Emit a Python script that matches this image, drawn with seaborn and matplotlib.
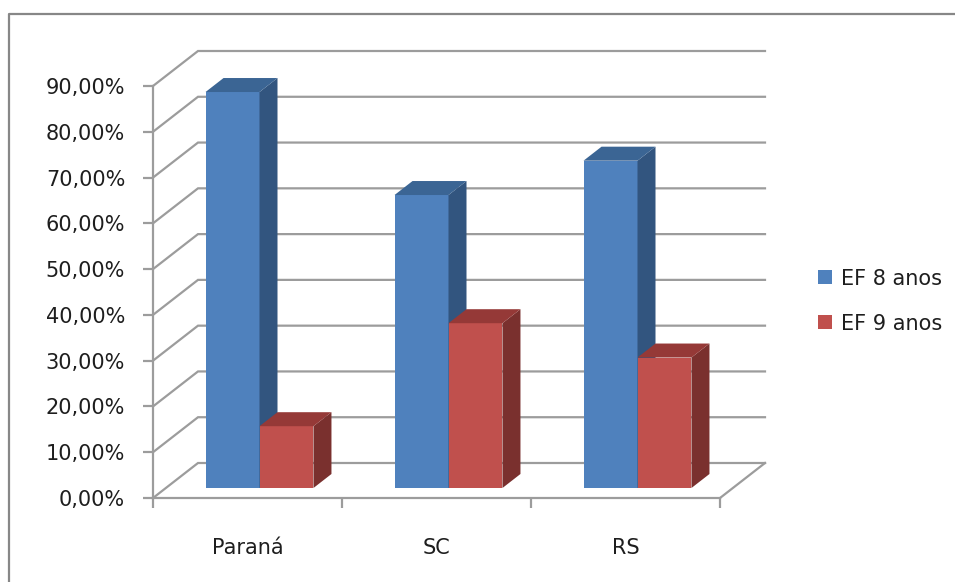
import numpy as np
import pandas as pd
import seaborn as sns
import matplotlib.pyplot as plt
from matplotlib.patches import Polygon, Patch
from matplotlib.lines import Line2D
from matplotlib.transforms import ScaledTranslation

# ---- data ----
estados = ["Paraná", "SC", "RS"]
series = ["EF 8 anos", "EF 9 anos"]
ef8 = [0.865, 0.64, 0.715]
ef9 = [0.135, 0.36, 0.285]
yticks = [0.0, 0.1, 0.2, 0.3, 0.4, 0.5, 0.6, 0.7, 0.8, 0.9]

df = pd.DataFrame({
    "estado": estados * 2,
    "serie": [series[0]] * 3 + [series[1]] * 3,
    "valor": ef8 + ef9,
})

# ---- styling ----
front = {"EF 8 anos": "#4F81BD", "EF 9 anos": "#C0504D"}
side = {"EF 8 anos": "#32557F", "EF 9 anos": "#7A302E"}
top = {"EF 8 anos": "#3B6594", "EF 9 anos": "#953937"}
grid_c = "#9C9C9C"
text_c = "#1E1E1E"
FS = 15

W, H, DPI = 955, 582, 100
fig = plt.figure(figsize=(W / DPI, H / DPI), dpi=DPI)
fig.patch.set_facecolor("white")

ax_px = (153, 86, 567, 412)  # left, top, width, height in pixels
ax = fig.add_axes([ax_px[0] / W, (H - ax_px[1] - ax_px[3]) / H, ax_px[2] / W, ax_px[3] / H])
ax.set_xlim(-0.5, 2.5)
ax.set_ylim(0, 0.9)
ax.set_facecolor("none")

# pixel -> data conversion for the depth offsets
px_x = 3.0 / ax_px[2]
px_y = 0.9 / ax_px[3]
wall_dx, wall_dy = 45 * px_x, 35 * px_y     # full depth of the floor/walls
bar_dx, bar_dy = 18 * px_x, 14 * px_y       # depth of each bar

sns.barplot(data=df, x="estado", y="valor", hue="serie", order=estados,
            hue_order=series, palette=front, width=0.571, saturation=1,
            ax=ax, legend=False, linewidth=0, zorder=3)

# bars sit part-way into the depth of the floor
shift = ax.transData + ScaledTranslation(12 / DPI, 10 / DPI, fig.dpi_scale_trans)

# back wall, left wall and floor
for t in yticks:
    ax.plot([-0.5, -0.5 + wall_dx, 2.5 + wall_dx], [t, t + wall_dy, t + wall_dy],
            color=grid_c, lw=1.6, clip_on=False, zorder=1, solid_joinstyle="miter")
ax.plot([2.5, 2.5 + wall_dx], [0, wall_dy], color=grid_c, lw=1.6, clip_on=False, zorder=1)

# 3D faces for each bar, series drawn left to right
patches = list(ax.patches)
for i, p in enumerate(patches):
    s = series[i // 3]
    z = 3 + (i // 3) * 2
    p.set_transform(shift)
    p.set_clip_on(False)
    p.set_zorder(z)
    x0, w, h = p.get_x(), p.get_width(), p.get_height()
    x1 = x0 + w
    side_poly = Polygon([(x1, 0), (x1 + bar_dx, bar_dy), (x1 + bar_dx, h + bar_dy), (x1, h)],
                        closed=True, facecolor=side[s], edgecolor="none",
                        transform=shift, clip_on=False, zorder=z)
    top_poly = Polygon([(x0, h), (x0 + bar_dx, h + bar_dy), (x1 + bar_dx, h + bar_dy), (x1, h)],
                       closed=True, facecolor=top[s], edgecolor="none",
                       transform=shift, clip_on=False, zorder=z + 0.5)
    ax.add_patch(side_poly)
    ax.add_patch(top_poly)

# axes
for sp in ["top", "right"]:
    ax.spines[sp].set_visible(False)
for sp in ["left", "bottom"]:
    ax.spines[sp].set_color(grid_c)
    ax.spines[sp].set_linewidth(1.6)
    ax.spines[sp].set_zorder(2)

ax.set_yticks(yticks)
ax.set_yticklabels([f"{v * 100:.2f}%".replace(".", ",") for v in yticks])
ax.tick_params(axis="y", length=7, width=1.6, color=grid_c, pad=13,
               labelsize=FS, labelcolor=text_c)

ax.set_xticks([-0.5, 0.5, 1.5, 2.5])
ax.set_xticklabels([])
ax.set_xticks([0, 1, 2], minor=True)
ax.set_xticklabels(estados, minor=True)
ax.tick_params(axis="x", which="major", length=7, width=1.6, color=grid_c)
ax.tick_params(axis="x", which="minor", length=0, pad=29, labelsize=FS, labelcolor=text_c)
ax.set_xlabel("")
ax.set_ylabel("")
ax.grid(False)

# legend
handles = [Patch(facecolor=front[s], edgecolor="none") for s in series]
fig.legend(handles, series, loc="center left", bbox_to_anchor=(818 / W, 1 - 301 / H),
           frameon=False, fontsize=FS, labelcolor=text_c, handlelength=0.65,
           handleheight=0.65, handletextpad=0.45, labelspacing=1.2, borderpad=0,
           borderaxespad=0)

# chart area border (left and top edges)
fig.add_artist(Line2D([9 / W, 9 / W, 1.0], [0.0, 1 - 14 / H, 1 - 14 / H],
                      transform=fig.transFigure, color="#878787", lw=1.6))

fig.savefig("out.png", dpi=DPI, facecolor="white")
